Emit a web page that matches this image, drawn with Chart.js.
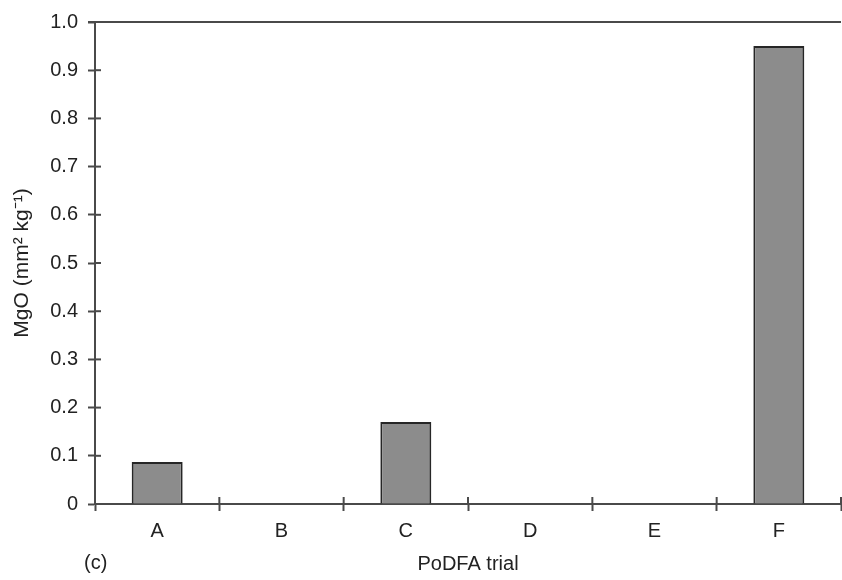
<!DOCTYPE html>
<html>
<head>
<meta charset="utf-8">
<script src="https://cdn.jsdelivr.net/npm/chart.js@4"></script>
<style>
html,body{margin:0;padding:0;background:#fff;}
#wrap{width:842px;height:580px;}
</style>
</head>
<body>
<div id="wrap"><canvas id="c" width="842" height="580"></canvas></div>
<script>
const categories = ['A', 'B', 'C', 'D', 'E', 'F'];
const mgoValues = [0.087, 0, 0.17, 0, 0, 0.95];
const yTickValues = [0, 0.1, 0.2, 0.3, 0.4, 0.5, 0.6, 0.7, 0.8, 0.9, 1.0];
const yTitle = 'MgO (mm\u00B2 kg\u207B\u00B9)';
const xTitle = 'PoDFA trial';
const panelLabel = '(c)';

const axisColor = '#4a4a4a';
const textColor = '#222';
const font = {family: 'Liberation Sans, Arial, sans-serif', size: 20};
const titleFont = {family: 'Liberation Sans, Arial, sans-serif', size: 21};

const innerTicks = {
  id: 'innerTicks',
  afterDraw(chart) {
    const ctx = chart.ctx;
    const xs = chart.scales.x, ys = chart.scales.y;
    const a = chart.chartArea;
    ctx.save();
    ctx.strokeStyle = axisColor;
    ctx.lineWidth = 2;
    yTickValues.forEach(v => {
      const py = ys.getPixelForValue(v);
      ctx.beginPath();
      ctx.moveTo(a.left, py);
      ctx.lineTo(a.left + 6, py);
      ctx.stroke();
    });
    for (let i = 0; i <= categories.length; i++) {
      const px = xs.getPixelForValue(i - 0.5);
      ctx.beginPath();
      ctx.moveTo(px, a.bottom);
      ctx.lineTo(px, a.bottom - 7);
      ctx.stroke();
    }
    ctx.beginPath();
    ctx.moveTo(a.left - 7, a.top);
    ctx.lineTo(a.right, a.top);
    ctx.stroke();
    ctx.fillStyle = textColor;
    ctx.font = '20px Liberation Sans, Arial, sans-serif';
    ctx.textBaseline = 'middle';
    ctx.textAlign = 'left';
    ctx.fillText(panelLabel, a.left - 11, 563);
    ctx.restore();
  }
};

new Chart(document.getElementById('c'), {
  type: 'bar',
  data: {
    labels: categories,
    datasets: [{
      data: mgoValues,
      backgroundColor: '#8c8c8c',
      borderColor: '#262626',
      borderWidth: 2,
      borderSkipped: 'bottom',
      barPercentage: 1.0,
      categoryPercentage: 0.41
    }]
  },
  options: {
    responsive: false,
    animation: false,
    devicePixelRatio: 1,
    layout: {padding: {top: 6, right: 1, left: 10, bottom: 4}},
    plugins: {legend: {display: false}, tooltip: {enabled: false}},
    scales: {
      x: {
        offset: true,
        grid: {offset: true, drawOnChartArea: false, tickLength: 7, tickWidth: 2, tickColor: axisColor},
        border: {color: axisColor, width: 2},
        ticks: {color: textColor, font: font, padding: 8},
        title: {display: true, text: xTitle, color: textColor, font: font, padding: {top: 1, bottom: 0}}
      },
      y: {
        min: 0, max: 1.0,
        afterBuildTicks(scale) { scale.ticks = yTickValues.map(v => ({value: v})); },
        grid: {drawOnChartArea: false, tickLength: 7, tickWidth: 2, tickColor: axisColor},
        border: {color: axisColor, width: 2},
        ticks: {color: textColor, font: font, padding: 10,
          callback: v => v === 0 ? '0' : v.toFixed(1)},
        title: {display: true, text: yTitle, color: textColor, font: titleFont, padding: {top: 0, bottom: 5}}
      }
    }
  },
  plugins: [innerTicks]
});
</script>
</body>
</html>
